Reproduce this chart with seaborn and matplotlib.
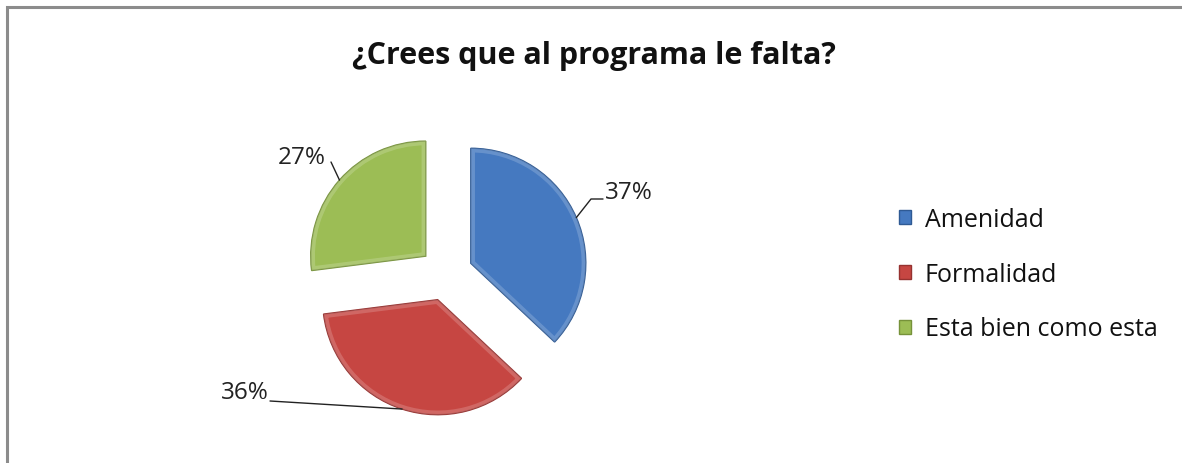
import numpy as np
import seaborn as sns
import matplotlib.pyplot as plt
from matplotlib.patches import Rectangle, Wedge

# data
categories = ["Amenidad", "Formalidad", "Esta bien como esta"]
shares = [37, 36, 27]
pct_labels = ["37%", "36%", "27%"]
title = "¿Crees que al programa le falta?"

sns.set_theme(style="white")
plt.rcParams['font.family'] = ['Open Sans', 'DejaVu Sans']

colors = ["#4579C0", "#C64642", "#9CBD55"]
edge_colors = ["#2F5A94", "#963230", "#76923A"]

W, H = 1182, 464
fig = plt.figure(figsize=(W / 100, H / 100), dpi=100)
ax = fig.add_axes([0, 0, 1, 1])

# chart border (gray frame like the spreadsheet chart area)
fig.patches.append(Rectangle((7 / W, -0.1), 1.2, (H - 8) / H + 0.1, transform=fig.transFigure,
                             fill=False, edgecolor="#8c8c8c", linewidth=2.2))

# pie in pixel coordinates (y measured upward); explode is absolute here
cx, cy, r = 446, H - 275, 115
wedges, _ = ax.pie(shares, colors=colors, startangle=90, counterclock=False,
                   explode=[27] * 3, radius=r, center=(cx, cy), frame=True,
                   wedgeprops=dict(linewidth=1.0))
for w, ec in zip(wedges, edge_colors):
    w.set_edgecolor(ec)
    # soft bevel along the inside of each slice
    bevel = Wedge(w.center, w.r, w.theta1, w.theta2, fill=False,
                  edgecolor="white", alpha=0.18, linewidth=6)
    ax.add_patch(bevel)
    bevel.set_clip_path(w)

ax.set_xlim(0, W)
ax.set_ylim(0, H)
ax.set_aspect('equal')
ax.axis('off')

# data labels with leader lines from the middle of each arc
label_pos = [(605, H - 193), (269, H - 393), (326, H - 158)]
label_ha = ["left", "right", "right"]
for w, lab, (tx, ty), ha in zip(wedges, pct_labels, label_pos, label_ha):
    mid = np.deg2rad((w.theta1 + w.theta2) / 2)
    wx, wy = w.center
    ax_pt = (wx + w.r * np.cos(mid), wy + w.r * np.sin(mid))
    if lab == "37%":
        xs = [ax_pt[0], 591, 603]
        ys = [ax_pt[1], H - 200, H - 200]
    elif lab == "36%":
        xs = [ax_pt[0], 270]
        ys = [ax_pt[1], H - 402]
    else:
        xs = [ax_pt[0], 331]
        ys = [ax_pt[1], H - 163]
    ax.plot(xs, ys, color="#222222", linewidth=1)
    ax.text(tx, ty, lab, ha=ha, va="center", fontsize=17.5, color="#222222")

ax.text(594, H - 56, title, ha="center", va="center", fontsize=22,
        fontweight="bold", color="#111111")

leg = ax.legend(wedges, categories, loc="upper left",
                bbox_to_anchor=(899 / W, (H - 208) / H), frameon=False,
                fontsize=18, handlelength=0.48, handleheight=0.48,
                handletextpad=0.55, labelspacing=1.19, borderpad=0,
                borderaxespad=0)
for t in leg.get_texts():
    t.set_color("#111111")

fig.savefig("out.png", dpi=100, facecolor="white")
